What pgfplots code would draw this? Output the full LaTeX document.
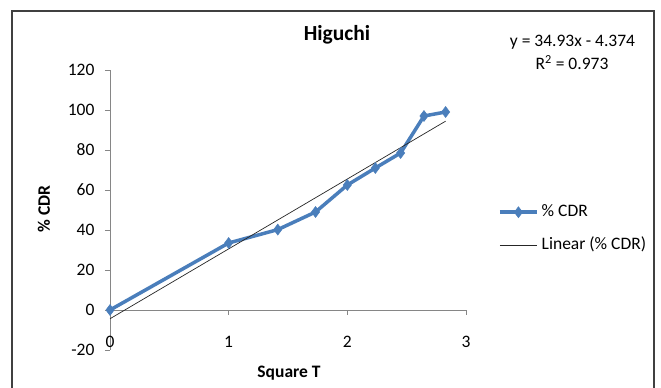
\documentclass[border=0pt]{standalone}
\usepackage{fontspec}
\setmainfont{Carlito}
\usepackage{pgfplots}
\pgfplotsset{compat=1.18}
\definecolor{xlblue}{RGB}{74,126,187}
\definecolor{axgray}{RGB}{134,134,134}
\definecolor{framegray}{RGB}{64,64,64}
\begin{document}
\begin{tikzpicture}[x=1pt,y=1pt]
\useasboundingbox (0,0) rectangle (661,388);
\fill[white] (0,0) rectangle (661,388);
\draw[framegray, line width=1.3pt] (12,-2) -- (12,377) -- (654,377) -- (654,-2);
\begin{axis}[
  at={(110pt,78pt)}, anchor=origin,
  scale only axis, width=356pt, height=280pt,
  xmin=0, xmax=3, ymin=-20, ymax=120,
  axis x line=middle, axis y line=left,
  hide obscured x ticks=false, hide obscured y ticks=false,
  axis line style={axgray, line width=0.8pt, -},
  xtick={0,1,2,3}, ytick={-20,0,20,40,60,80,100,120},
  tick align=outside, major tick length=5pt,
  tick style={axgray, line width=0.8pt},
  ticklabel style={font=\fontsize{17.5}{20}\selectfont, text=black},
  /pgf/number format/assume math mode=true,
  xticklabel style={anchor=north, yshift=-18pt},
  yticklabel style={anchor=east, xshift=-7pt},
  clip=false,
  legend style={draw=none, fill=none, at={(1.0899,0.5214)}, anchor=north west,
    inner sep=0pt, row sep=17pt, column sep=3pt,
    cells={anchor=west},
    nodes={inner sep=0pt, text height=12pt, text depth=4pt, font=\fontsize{17.5}{20}\selectfont}},
  legend image code/.code={\draw[mark repeat=2, mark phase=2, #1] plot coordinates {(0pt,0pt) (18.5pt,0pt) (37pt,0pt)};},
]
\addplot[xlblue, line width=3.5pt, mark=diamond*, mark size=5.5pt,
  mark options={fill=xlblue, draw=xlblue, line width=0.5pt}] coordinates {
  (0,0) (1,33.5) (1.414,40.2) (1.732,49) (2,62.5) (2.236,71) (2.449,78.5) (2.646,97) (2.828,99)
};
\addlegendentry{\% CDR}
\addplot[black!85, line width=0.7pt] coordinates {(0,-4.374) (2.828,94.41)};
\addlegendentry{Linear (\% CDR)}
\end{axis}
\node[font=\bfseries\fontsize{21.5}{24}\selectfont, anchor=base] at (337,347) {Higuchi};
\node[font=\bfseries\fontsize{17.5}{20}\selectfont, anchor=base] at (289,10) {Square T};
\node[font=\bfseries\fontsize{17.5}{20}\selectfont, anchor=base, rotate=90] at (50,179) {\% CDR};
\node[font=\fontsize{17.5}{20}\selectfont, anchor=base] at (572.5,341) {y = 34.93x - 4.374};
\node[font=\fontsize{17.5}{20}\selectfont, anchor=base] at (572,318) {R\textsuperscript{2} = 0.973};
\end{tikzpicture}
\end{document}
